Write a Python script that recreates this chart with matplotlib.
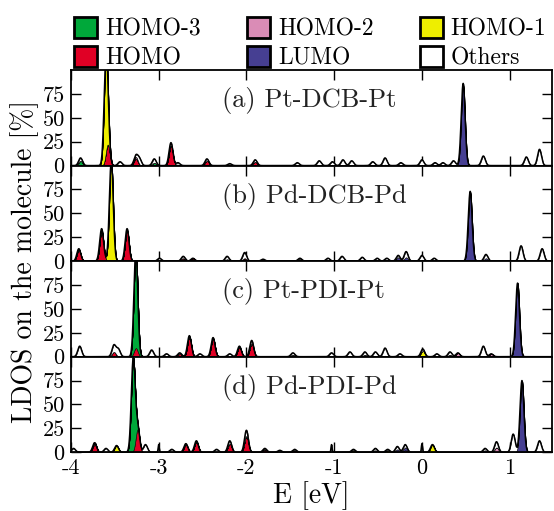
import numpy as np
import matplotlib
matplotlib.use("Agg")
import matplotlib.pyplot as plt
from matplotlib.patches import Patch

plt.rcParams["font.family"] = "serif"
plt.rcParams["font.serif"] = ["cmr10"]
plt.rcParams["mathtext.fontset"] = "cm"
plt.rcParams["axes.unicode_minus"] = False
plt.rcParams["axes.formatter.use_mathtext"] = False

# orbital components, bottom of the stack first
components = ["HOMO", "HOMO-3", "HOMO-2", "HOMO-1", "LUMO", "Others"]
legend_order = ["HOMO-3", "HOMO", "HOMO-2", "LUMO", "HOMO-1", "Others"]
panel_labels = ["(a) Pt-DCB-Pt", "(b) Pd-DCB-Pd", "(c) Pt-PDI-Pt", "(d) Pd-PDI-Pd"]
x_ticks = [-4, -3, -2, -1, 0, 1]
y_ticks = [0, 25, 50, 75]

# peaks: (E, HOMO-3, HOMO-2, HOMO-1, HOMO, LUMO, others)
peaks_a = [
    (-3.89, 5, 0, 0, 0, 0, 3), (-3.60, 0, 0, 103, 0, 0, 3), (-3.58, 0, 0, 0, 22, 0, 0),
    (-3.44, 0, 0, 0, 0, 0, 4), (-3.26, 0, 2, 0, 7, 0, 1), (-3.22, 0, 0, 0, 0, 0, 7),
    (-3.05, 3, 0, 0, 0, 0, 4), (-2.86, 0, 0, 0, 21, 0, 3), (-2.78, 0, 0, 0, 1, 0, 2),
    (-2.45, 0, 0, 0, 5, 0, 2), (-2.19, 0, 0, 0, 0, 0, 2), (-1.90, 0, 0, 0, 4, 0, 2),
    (-1.42, 0, 0, 0, 0, 0, 3), (-1.17, 0, 0, 0, 0, 0, 5), (-1.02, 0, 0, 0, 0, 0, 4),
    (-0.90, 0, 0, 0, 0, 0, 6), (-0.80, 0, 0, 0, 0, 0, 5), (-0.56, 0, 0, 0, 0, 0, 4),
    (-0.42, 0, 0, 0, 0, 1, 7), (-0.24, 0, 0, 0, 0, 0, 3), (0.00, 0, 0, 0, 0, 0, 6),
    (0.15, 0, 0, 0, 0, 0, 3), (0.24, 0, 0, 0, 0, 0, 3), (0.36, 0, 0, 0, 0, 0, 5),
    (0.47, 0, 0, 0, 0, 84, 2), (0.70, 0, 0, 0, 0, 0, 10), (1.19, 0, 0, 0, 0, 0, 9),
    (1.34, 0, 0, 0, 0, 0, 17),
]
peaks_b = [
    (-3.91, 0, 0, 0, 12, 0, 1), (-3.65, 0, 0, 0, 32, 0, 2), (-3.54, 0, 0, 105, 0, 0, 0),
    (-3.36, 0, 0, 0, 32, 0, 2), (-2.99, 0, 0, 0, 0, 0, 3), (-2.72, 0, 0, 0, 3, 0, 2),
    (-2.61, 0, 0, 0, 3, 0, 0), (-2.22, 1, 0, 0, 0, 1, 3), (-2.02, 0, 0, 0, 3, 0, 6),
    (-1.81, 0, 0, 0, 0, 0, 2), (-1.39, 0, 0, 0, 2, 0, 1), (-1.07, 0, 0, 0, 0, 0, 3),
    (-0.91, 0, 0, 0, 0, 0, 5), (-0.68, 0, 0, 0, 0, 0, 4), (-0.51, 0, 0, 0, 0, 0, 3),
    (-0.40, 0, 0, 0, 0, 0, 3), (-0.27, 0, 0, 0, 0, 4, 2), (-0.18, 0, 0, 0, 0, 4, 6),
    (0.00, 0, 0, 0, 0, 0, 6), (0.14, 0, 0, 0, 0, 0, 3), (0.55, 0, 0, 0, 0, 72, 1),
    (0.73, 0, 0, 0, 0, 3, 4), (1.13, 0, 0, 0, 0, 0, 16), (1.37, 0, 0, 0, 0, 0, 13),
]
peaks_c = [
    (-3.90, 0, 0, 0, 0, 0, 11), (-3.51, 0, 0, 0, 5, 0, 7), (-3.46, 0, 0, 0, 0, 0, 8),
    (-3.26, 102, 0, 0, 9, 0, 0), (-3.08, 0, 0, 0, 0, 0, 7), (-2.91, 0, 0, 0, 0, 0, 3),
    (-2.76, 0, 0, 0, 3, 0, 1), (-2.65, 0, 0, 0, 21, 0, 1), (-2.53, 0, 0, 0, 0, 0, 3),
    (-2.38, 0, 0, 0, 19, 0, 1), (-2.19, 0, 0, 0, 0, 0, 3), (-2.08, 0, 0, 0, 10, 0, 1),
    (-1.94, 0, 0, 0, 14, 0, 3), (-1.47, 0, 0, 2, 0, 0, 2), (-1.03, 0, 0, 0, 0, 0, 4),
    (-0.82, 0, 0, 0, 0, 0, 5), (-0.65, 0, 2, 0, 0, 0, 3), (-0.53, 0, 0, 0, 0, 0, 5),
    (-0.42, 0, 0, 0, 0, 1, 8), (-0.25, 0, 0, 0, 0, 0, 3), (0.01, 0, 0, 6, 0, 0, 2),
    (0.17, 0, 0, 0, 0, 0, 3), (0.32, 0, 2, 0, 0, 0, 3), (0.41, 0, 4, 0, 0, 0, 0),
    (0.70, 0, 0, 0, 0, 0, 11), (0.79, 0, 3, 0, 0, 0, 0), (1.09, 0, 0, 0, 0, 77, 0),
]
peaks_d = [
    (-3.97, 0, 0, 0, 0, 0, 4), (-3.73, 0, 2, 0, 8, 0, 0), (-3.60, 0, 0, 0, 0, 0, 4),
    (-3.48, 0, 0, 7, 0, 0, 0), (-3.29, 97, 0, 0, 0, 0, 0), (-3.24, 0, 0, 0, 24, 0, 2),
    (-3.15, 0, 0, 0, 0, 0, 8), (-2.85, 0, 0, 0, 0, 0, 3), (-2.69, 0, 0, 0, 8, 0, 1),
    (-2.57, 0, 0, 0, 11, 0, 1), (-2.34, 0, 0, 0, 0, 0, 3), (-2.19, 0, 0, 0, 9, 0, 3),
    (-2.00, 0, 0, 0, 17, 0, 6), (-1.79, 0, 0, 0, 3, 0, 1), (-1.62, 0, 0, 0, 0, 0, 2),
    (-1.45, 0, 0, 0, 2, 0, 1), (-0.78, 0, 0, 2, 0, 0, 1), (-0.53, 0, 2, 0, 0, 0, 2),
    (-0.39, 0, 0, 2, 0, 0, 1), (-0.28, 0, 0, 0, 0, 3, 3), (-0.19, 0, 2, 0, 0, 3, 3),
    (0.12, 0, 0, 8, 0, 0, 0), (0.72, 0, 0, 0, 0, 2, 2), (0.85, 0, 5, 0, 0, 0, 6),
    (1.04, 0, 0, 0, 0, 0, 19), (1.14, 0, 0, 0, 0, 75, 0), (1.34, 0, 0, 0, 0, 0, 12),
]
# sharp single-level lines (E, height)
spikes_a = []
spikes_b = []
spikes_c = []
spikes_d = [(-3.00, 8), (-1.03, 8), (0.00, 9)]

colors = {"HOMO-3": "#00a83a", "HOMO-2": "#da8cb6", "HOMO-1": "#eeee00",
          "HOMO": "#e00025", "LUMO": "#463f92", "Others": "white"}
# column index in the peak tables
col = {"HOMO-3": 1, "HOMO-2": 2, "HOMO-1": 3, "HOMO": 4, "LUMO": 5, "Others": 6}

E = np.linspace(-4.0, 1.5, 4000)
sigma = 0.022


def broaden(rows, idx, width):
    y = np.zeros_like(E)
    for r in rows:
        if r[idx] > 0:
            y += r[idx] * np.exp(-0.5 * ((E - r[0]) / width) ** 2)
    return y


fig = plt.figure(figsize=(5.54, 5.11), dpi=100)
left, right, top, bottom = 0.128, 0.996, 0.863, 0.115
h = (top - bottom) / 4

panels = [(peaks_a, spikes_a), (peaks_b, spikes_b), (peaks_c, spikes_c), (peaks_d, spikes_d)]
for i, (rows, spikes) in enumerate(panels):
    ax = fig.add_axes([left, top - (i + 1) * h, right - left, h])
    base = np.zeros_like(E)
    for c in components:
        y = broaden(rows, col[c], sigma)
        if c == "Others":
            y = y + broaden([(s[0], 0, 0, 0, 0, 0, s[1]) for s in spikes], 6, 0.006)
        ax.fill_between(E, base, base + y, facecolor=colors[c], edgecolor="black",
                        linewidth=0.4, zorder=2)
        base = base + y
    ax.plot(E, base, color="black", lw=1.1, zorder=3)
    ax.text(-2.28, 68, panel_labels[i], fontsize=19, ha="left", va="center", color="#222222")
    ax.set_xlim(-4, 1.48)
    ax.set_ylim(0, 100)
    ax.set_yticks(y_ticks)
    ax.set_xticks(x_ticks)
    ax.tick_params(direction="in", top=True, right=True, length=7, width=1.0,
                   labelsize=16, pad=4.5)
    if i < 3:
        ax.tick_params(labelbottom=False)
    else:
        ax.set_xticklabels([str(t) for t in x_ticks])
        ax.set_xlabel("E [eV]", fontsize=20, labelpad=2)
    for s in ax.spines.values():
        s.set_linewidth(1.3)

fig.text(0.045, (top + bottom) / 2, "LDOS on the molecule [%]", rotation=90,
         fontsize=20, ha="center", va="center")

handles = [Patch(facecolor=colors[c], edgecolor="black", linewidth=2, label=c)
           for c in legend_order]
fig.legend(handles=handles, ncol=3, loc="upper left", bbox_to_anchor=(0.096, 1.008),
           frameon=False, fontsize=17, handlelength=0.97, handleheight=0.97,
           handletextpad=0.34, columnspacing=1.95, labelspacing=0.24)

fig.savefig("out.png", dpi=100)
